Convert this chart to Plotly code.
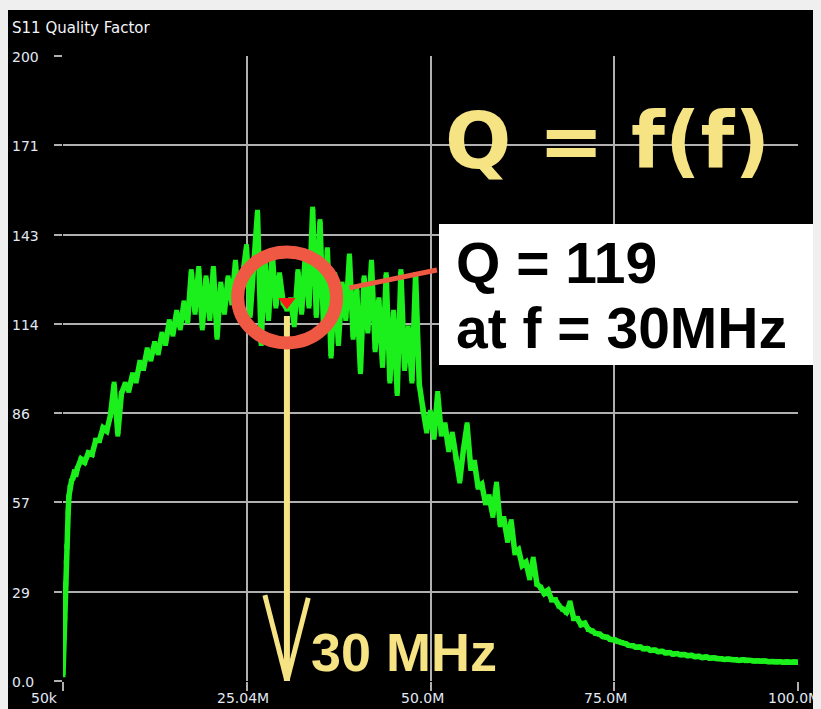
import plotly.graph_objects as go

# ---------------- data ----------------
freq_mhz = [
    0.05, 0.12, 0.2, 0.28, 0.35, 0.42, 0.5, 0.58, 0.66, 0.75, 0.85, 1.0, 1.2, 1.4, 1.6, 1.8,
    2.0, 2.5, 3.0, 3.5, 4.0, 4.5, 5.0, 5.5, 6.0, 6.5, 7.0, 7.5, 8.0, 8.5, 9.0, 9.5,
    10.0, 10.5, 11.0, 11.5, 12.0, 12.5, 13.0, 13.5, 14.0, 14.5, 15.0, 15.5, 16.0, 16.5, 17.0, 17.5,
    18.0, 18.5, 19.0, 19.5, 20.0, 20.5, 21.0, 21.5, 22.0, 22.5, 23.0, 23.5, 24.0, 24.5, 25.0, 25.5,
    26.0, 26.5, 27.0, 27.5, 28.0, 28.5, 29.0, 29.5, 30.0, 30.5, 31.0, 31.5, 32.0, 32.5, 33.0, 33.5,
    34.0, 34.5, 35.0, 35.5, 36.0, 36.5, 37.0, 37.5, 38.0, 38.5, 39.0, 39.5, 40.0, 40.5, 41.0, 41.5,
    42.0, 42.5, 43.0, 43.5, 44.0, 44.5, 45.0, 45.5, 46.0, 46.5, 47.0, 47.5, 48.0, 48.5, 49.0, 49.5,
    50.0, 50.5, 51.0, 51.5, 52.0, 52.5, 53.0, 53.5, 54.0, 54.5, 55.0, 55.5, 56.0, 56.5, 57.0, 57.5,
    58.0, 58.5, 59.0, 59.5, 60.0, 60.5, 61.0, 61.5, 62.0, 62.5, 63.0, 63.5, 64.0, 64.5, 65.0, 65.5,
    66.0, 66.5, 67.0, 67.5, 68.0, 68.5, 69.0, 69.5, 70.0, 70.5, 71.0, 71.5, 72.0, 72.5, 73.0, 73.5,
    74.0, 74.5, 75.0, 75.5, 76.0, 76.5, 77.0, 77.5, 78.0, 78.5, 79.0, 79.5, 80.0, 80.5, 81.0, 81.5,
    82.0, 82.5, 83.0, 83.5, 84.0, 84.5, 85.0, 85.5, 86.0, 86.5, 87.0, 87.5, 88.0, 88.5, 89.0, 89.5,
    90.0, 90.5, 91.0, 91.5, 92.0, 92.5, 93.0, 93.5, 94.0, 94.5, 95.0, 95.5, 96.0, 96.5, 97.0, 97.5,
    98.0, 98.5, 99.0, 99.5, 100.0,
]
q_factor = [
    2, 9, 14, 20, 26, 31, 38, 43, 49, 54, 59, 62, 64, 65, 67, 66,
    68, 71, 70, 73, 72.5, 77, 77, 81, 80, 85, 95, 79, 92, 95, 93, 98,
    96, 102, 100, 106, 103, 108, 105, 111, 108, 115, 111, 118, 113, 121, 115, 131,
    118, 132, 113, 129, 116, 132, 110, 127, 118, 129, 121, 134, 118, 130, 139, 117,
    132, 150, 108, 135, 116, 137, 120, 130, 121, 119, 122, 114, 131, 118, 136, 120,
    151, 117, 147, 112, 138, 104, 130, 108, 127, 116, 136, 110, 125, 99, 129, 112,
    134, 106, 122, 101, 130, 96, 118, 92, 131, 100, 113, 96, 130, 95, 87, 80,
    86, 78, 92, 79, 82, 74, 79, 71, 64, 74, 82, 68, 70, 62, 63, 57,
    59, 53, 63, 50, 52, 45, 51, 41, 42, 37, 38, 33, 39, 31, 30, 28,
    29, 26, 26, 24, 23, 22, 25, 20, 20, 18, 18.5, 16.5, 16, 15.2, 15, 14.2,
    14, 13.3, 13.2, 12.6, 12.3, 12, 11.4, 11.3, 10.8, 10.9, 10.3, 10.4, 9.8, 9.9, 9.4, 9.5,
    9.0, 9.1, 8.6, 8.8, 8.4, 8.5, 8.1, 8.2, 7.8, 7.9, 7.5, 7.7, 7.3, 7.4, 7.1, 7.2,
    6.9, 7.0, 6.8, 6.9, 6.6, 6.8, 6.5, 6.6, 6.4, 6.5, 6.3, 6.4, 6.2, 6.3, 6.1, 6.2,
    6.0, 6.2, 6.0, 6.1, 6.0,
]

marker_freq = 30.5     # MHz (marker position)
marker_q = 119

y_tick_vals = [0, 200 / 7, 400 / 7, 600 / 7, 800 / 7, 1000 / 7, 1200 / 7, 200]
y_tick_text = ["0.0", "29", "57", "86", "114", "143", "171", "200"]
x_tick_vals = [0.05, 25.0375, 50.025, 75.0125, 100.0]
x_tick_text = ["50k", "25.04M", "50.0M", "75.0M", "100.0M"]
x_label_shift = [-19, -4, -8, -9, -4]

title_text = "S11 Quality Factor"
big_text = "Q = f(f)"
box_line1 = "Q = 119"
box_line2 = "at f = 30MHz"
arrow_text = "30 MHz"

# ---------------- layout geometry ----------------
OFF = 8                      # page body margin
W, H = 821 - OFF, 709 - OFF  # figure size
ML, MR, MT, MB = 55, 23, 48, 28
PW, PH = W - ML - MR, H - MT - MB


def px_x(px):  # reference-image pixel -> paper fraction
    return (px - OFF - ML) / PW


def px_y(py):
    return (H - MB - (py - OFF)) / PH


GRID = "#b0b0b0"
GREEN = "#1cf01c"
YELLOW = "#f5e384"
RED = "#ef5842"
TXT = "#e2e8f4"

fig = go.Figure()
fig.add_trace(go.Scatter(
    x=freq_mhz, y=q_factor, mode="lines+markers",
    line=dict(color=GREEN, width=5.5),
    marker=dict(color=GREEN, size=5, symbol="square"),
    showlegend=False, hoverinfo="skip",
))
# marker triangle (tip at the value)
fig.add_trace(go.Scatter(
    x=[marker_freq], y=[marker_q + 2.4], mode="markers",
    marker=dict(symbol="triangle-down", size=15, color="#ff1a1a", line=dict(width=0)),
    showlegend=False, hoverinfo="skip",
))

shapes = []
# light gray top border strip
shapes.append(dict(type="rect", xref="paper", yref="paper", x0=px_x(0), x1=px_x(830),
                   y0=px_y(10), y1=px_y(0), fillcolor="#efefef", line=dict(width=0), layer="above"))
# arrow (vertical line + V head)
shapes.append(dict(type="line", xref="x", yref="y", x0=marker_freq, x1=marker_freq, y0=0, y1=116.8,
                   line=dict(color=YELLOW, width=6), layer="above"))
shapes.append(dict(type="line", xref="x", yref="y", x0=27.5, x1=marker_freq, y0=27.5, y1=0,
                   line=dict(color=YELLOW, width=5), layer="above"))
shapes.append(dict(type="line", xref="x", yref="y", x0=33.4, x1=marker_freq, y0=26.6, y1=0,
                   line=dict(color=YELLOW, width=5), layer="above"))
# red circle + connector
shapes.append(dict(type="circle", xref="x", yref="y", x0=23.8, x1=37.25, y0=108.2, y1=137.3,
                   line=dict(color=RED, width=13), layer="above"))
shapes.append(dict(type="line", xref="x", yref="y", x0=38.99, x1=50.9, y0=125.8, y1=131.5,
                   line=dict(color=RED, width=5), layer="above"))
# white info box
shapes.append(dict(type="rect", xref="paper", yref="paper", x0=px_x(439), x1=px_x(817),
                   y0=px_y(365), y1=px_y(224), fillcolor="white", line=dict(width=0), layer="above"))

ann = []
ann.append(dict(text=title_text, xref="paper", yref="paper", x=px_x(10), y=px_y(28.1),
                xanchor="left", yanchor="middle", showarrow=False,
                font=dict(family="DejaVu Sans", size=15, color="#f2f4fa")))
for v, t in zip(y_tick_vals, y_tick_text):
    ann.append(dict(text=t, xref="paper", yref="y", x=px_x(10), y=v, yshift=-1,
                    xanchor="left", yanchor="middle", showarrow=False,
                    font=dict(family="DejaVu Sans", size=14, color=TXT)))
for v, t, s in zip(x_tick_vals, x_tick_text, x_label_shift):
    ann.append(dict(text=t, xref="x", yref="paper", x=v, y=px_y(697.8), xshift=s,
                    xanchor="center", yanchor="middle", showarrow=False,
                    font=dict(family="DejaVu Sans", size=14, color=TXT)))
ann.append(dict(text="<b>" + big_text + "</b>", xref="paper", yref="paper", x=px_x(443), y=px_y(141),
                xanchor="left", yanchor="middle", showarrow=False,
                font=dict(family="DejaVu Sans", size=78, color=YELLOW)))
ann.append(dict(text="<b>" + box_line1 + "</b>", xref="paper", yref="paper", x=px_x(454), y=px_y(262.6),
                xanchor="left", yanchor="middle", showarrow=False,
                font=dict(family="Liberation Sans", size=57, color="black")))
ann.append(dict(text="<b>" + box_line2 + "</b>", xref="paper", yref="paper", x=px_x(454), y=px_y(327.6),
                xanchor="left", yanchor="middle", showarrow=False,
                font=dict(family="Liberation Sans", size=57, color="black")))
ann.append(dict(text="<b>" + arrow_text + "</b>", xref="paper", yref="paper", x=px_x(309), y=px_y(652),
                xanchor="left", yanchor="middle", showarrow=False,
                font=dict(family="Liberation Sans", size=54, color=YELLOW)))

fig.update_layout(
    width=W, height=H,
    margin=dict(l=ML, r=MR, t=MT, b=MB),
    paper_bgcolor="black", plot_bgcolor="black",
    shapes=shapes, annotations=ann,
    xaxis=dict(range=[0.05, 100.0], tickvals=x_tick_vals, showticklabels=False,
               showgrid=True, gridcolor=GRID, gridwidth=1.5, zeroline=False, showline=False,
               ticks="outside", ticklen=9, tickcolor=GRID, tickwidth=1.5, fixedrange=True),
    yaxis=dict(range=[0, 200], tickvals=y_tick_vals, showticklabels=False,
               showgrid=True, gridcolor=GRID, gridwidth=1.5, zeroline=False, showline=False,
               ticks="outside", ticklen=8, tickcolor=GRID, tickwidth=1.5, fixedrange=True),
)

fig.write_html(
    "out.html",
    post_script="document.body.style.backgroundColor='#efefef';",
)
